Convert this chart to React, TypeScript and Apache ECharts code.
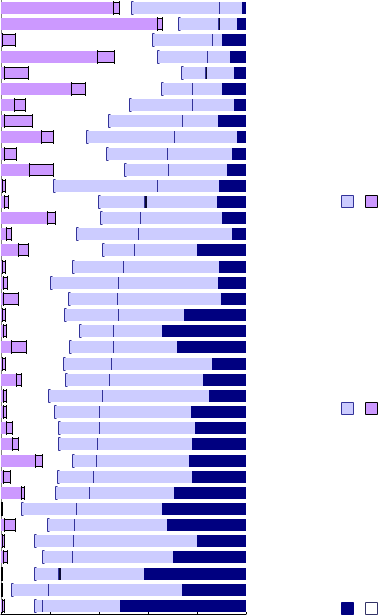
import React, { useEffect, useRef } from "react";
import * as echarts from "echarts";

// Row labels (cut off in the reference, kept hidden)
const categories = [
  "R1", "R2", "R3", "R4", "R5", "R6", "R7", "R8", "R9", "R10",
  "R11", "R12", "R13", "R14", "R15", "R16", "R17", "R18", "R19", "R20",
  "R21", "R22", "R23", "R24", "R25", "R26", "R27", "R28", "R29", "R30",
  "R31", "R32", "R33", "R34", "R35", "R36", "R37", "R38",
];

// Segment values in percent, left to right
const purpleSolid = [45.9, 63.8, 0.4, 39.0, 1.2, 28.5, 5.3, 1.2, 16.3, 1.2, 11.4, 0.4, 1.2, 18.7, 2.0, 6.9, 0.4, 0.8, 0.8, 0.4, 0.8, 4.1, 0.4, 6.1, 0.8, 0.8, 2.0, 4.5, 13.8, 0.8, 8.1, 0.2, 1.2, 0.4, 0.8, 0.2, 0.2, 0.4];
const purpleBox = [2.4, 2.0, 5.3, 7.3, 9.8, 5.7, 4.5, 11.4, 4.9, 4.9, 9.8, 1.2, 1.6, 3.3, 2.0, 4.1, 1.2, 1.6, 6.1, 1.2, 1.2, 6.1, 1.2, 2.0, 1.2, 1.2, 2.4, 2.4, 2.8, 2.8, 1.2, 0.2, 4.5, 0.8, 1.6, 0.2, 0.2, 0.8];
const gapPart = [4.9, 6.5, 56.1, 17.5, 62.6, 31.3, 42.3, 30.9, 13.4, 36.6, 28.9, 19.5, 36.6, 18.3, 26.8, 30.1, 27.2, 17.5, 20.3, 24.0, 29.7, 17.5, 23.6, 17.9, 17.1, 19.5, 18.7, 16.3, 12.2, 19.1, 12.6, 7.7, 13.0, 12.2, 14.2, 13.0, 3.7, 12.2];
const lightBlue1 = [35.8, 16.3, 24.4, 20.3, 9.8, 12.6, 26.0, 30.5, 36.2, 25.2, 17.9, 42.7, 19.1, 16.3, 25.2, 13.0, 21.1, 28.0, 20.3, 22.0, 14.2, 17.9, 19.5, 17.9, 22.0, 18.7, 16.7, 15.9, 9.8, 15.0, 14.2, 22.4, 11.0, 15.9, 12.2, 9.8, 15.0, 3.3];
const tinyPart = [0, 0.8, 0, 0, 0.8, 0, 0, 0, 0, 0, 0, 0, 1.1, 0.5, 0, 0.5, 0, 0, 0, 0, 0, 0, 0.4, 0, 0, 0, 0, 0, 0, 0, 0, 0.5, 0, 0, 0, 1.1, 0, 0];
const lightBlue2 = [9.3, 6.9, 4.1, 9.3, 11.0, 12.2, 17.1, 14.6, 25.6, 26.4, 24.4, 25.2, 28.6, 33.2, 38.2, 25.5, 39.0, 40.7, 42.3, 27.2, 19.9, 26.4, 41.1, 38.6, 43.9, 37.4, 39.4, 39.0, 38.2, 40.2, 34.6, 34.9, 38.2, 50.8, 41.5, 33.9, 54.9, 31.7];
const navyPart = [1.6, 3.7, 9.8, 6.5, 4.9, 9.8, 4.9, 11.4, 3.7, 5.7, 7.7, 11.0, 11.8, 9.8, 5.7, 19.9, 11.0, 11.4, 10.2, 25.2, 34.1, 28.0, 13.8, 17.5, 15.0, 22.4, 20.7, 22.0, 23.2, 22.0, 29.3, 34.1, 32.1, 19.9, 29.7, 41.9, 26.0, 51.6];

const xTicks = [0, 20, 40, 60, 80, 100];

const PURPLE = "#cc99ff";
const LIGHT = "#ccccff";
const NAVY = "#000080";
const EDGE = "#333399";

export default function App() {
  const ref = useRef<HTMLDivElement>(null);

  useEffect(() => {
    if (!ref.current) return;
    const chart = echarts.init(ref.current, undefined, { renderer: "svg" });

    const data = categories.map((_, i) => [
      i,
      purpleSolid[i],
      purpleBox[i],
      gapPart[i],
      lightBlue1[i],
      tinyPart[i],
      lightBlue2[i],
      navyPart[i],
    ]);

    const renderItem = (params: any, api: any) => {
      const row = api.value(0);
      const v = [1, 2, 3, 4, 5, 6, 7].map((k) => api.value(k));
      const c: number[] = [0];
      v.forEach((x) => c.push(c[c.length - 1] + x));
      const band = api.size([0, 1])[1];
      const h = Math.round(band * 0.76);
      const yc = api.coord([0, row])[1];
      const top = Math.round(yc - h / 2);
      const X = (val: number) => Math.round(api.coord([val, row])[0]);
      const children: any[] = [];
      const rect = (a: number, b: number, fill: string, extra: any = {}) => ({
        type: "rect",
        shape: { x: X(a), y: top, width: Math.max(0, X(b) - X(a)), height: h },
        style: { fill, ...extra },
      });
      // purple solid
      children.push(rect(c[0], c[1], PURPLE));
      // light blue 1, tiny, light blue 2, navy
      children.push(rect(c[3], c[4], LIGHT));
      if (v[4] > 0) children.push(rect(c[4], c[5], "#0a0a33"));
      children.push(rect(c[5], c[6], LIGHT));
      children.push(rect(c[6], c[7], NAVY));
      // purple box with black border
      const bx0 = X(c[1]);
      const bx1 = Math.max(X(c[2]), bx0 + 1);
      children.push({
        type: "rect",
        shape: { x: bx0 + 0.5, y: top + 0.5, width: bx1 - bx0, height: h - 1 },
        style: { fill: PURPLE, stroke: "#000", lineWidth: 1 },
      });
      children.push({
        type: "line",
        shape: { x1: bx0 + 0.5, y1: top - 1, x2: bx0 + 0.5, y2: top + h + 1 },
        style: { stroke: "#000", lineWidth: 1 },
      });
      children.push({
        type: "line",
        shape: { x1: bx1 + 0.5, y1: top - 1, x2: bx1 + 0.5, y2: top + h + 1 },
        style: { stroke: "#000", lineWidth: 1 },
      });
      // left bracket of light blue 1
      const lx = X(c[3]) + 0.5;
      children.push({
        type: "polyline",
        shape: {
          points: [
            [lx + 2, top - 0.5],
            [lx, top - 0.5],
            [lx, top + h + 0.5],
            [lx + 2, top + h + 0.5],
          ],
        },
        style: { stroke: EDGE, lineWidth: 1, fill: "none" },
      });
      // divider between light blue parts
      const dx = X(c[4]) + 0.5;
      children.push({
        type: "line",
        shape: { x1: dx, y1: top, x2: dx, y2: top + h },
        style: { stroke: EDGE, lineWidth: 1 },
      });
      return { type: "group", children };
    };

    const legendBox = (x: number, y: number, fill: string, stroke: string) => ({
      type: "rect",
      shape: { x: x + 0.5, y: y + 0.5, width: 12, height: 12 },
      style: { fill, stroke, lineWidth: 1 },
    });

    chart.setOption({
      animation: false,
      grid: { left: 1, right: 133, top: 0, bottom: 1, containLabel: false },
      xAxis: {
        type: "value",
        min: xTicks[0],
        max: xTicks[xTicks.length - 1],
        interval: 20,
        axisLabel: { show: false },
        splitLine: { show: false },
        axisLine: { show: true, lineStyle: { color: "#000", width: 1 } },
        axisTick: { show: true, inside: true, length: 2, lineStyle: { color: "#000" } },
      },
      yAxis: {
        type: "category",
        data: categories,
        inverse: true,
        axisLabel: { show: false },
        axisTick: { show: false },
        splitLine: { show: false },
        axisLine: { show: true, lineStyle: { color: "#808080", width: 1 } },
      },
      series: [
        {
          type: "custom",
          renderItem,
          encode: { x: [1, 2, 3, 4, 5, 6, 7], y: 0 },
          data,
        },
      ],
      graphic: [
        legendBox(341, 195, LIGHT, EDGE),
        legendBox(365, 195, PURPLE, "#000"),
        legendBox(341, 402, LIGHT, EDGE),
        legendBox(365, 402, PURPLE, "#000"),
        legendBox(341, 602, NAVY, NAVY),
        legendBox(365, 602, "#ffffff", "#333366"),
      ],
    });

    return () => chart.dispose();
  }, []);

  return (
    <div
      ref={ref}
      style={{ position: "fixed", left: 0, top: 0, width: 379, height: 615, background: "#fff" }}
    />
  );
}
